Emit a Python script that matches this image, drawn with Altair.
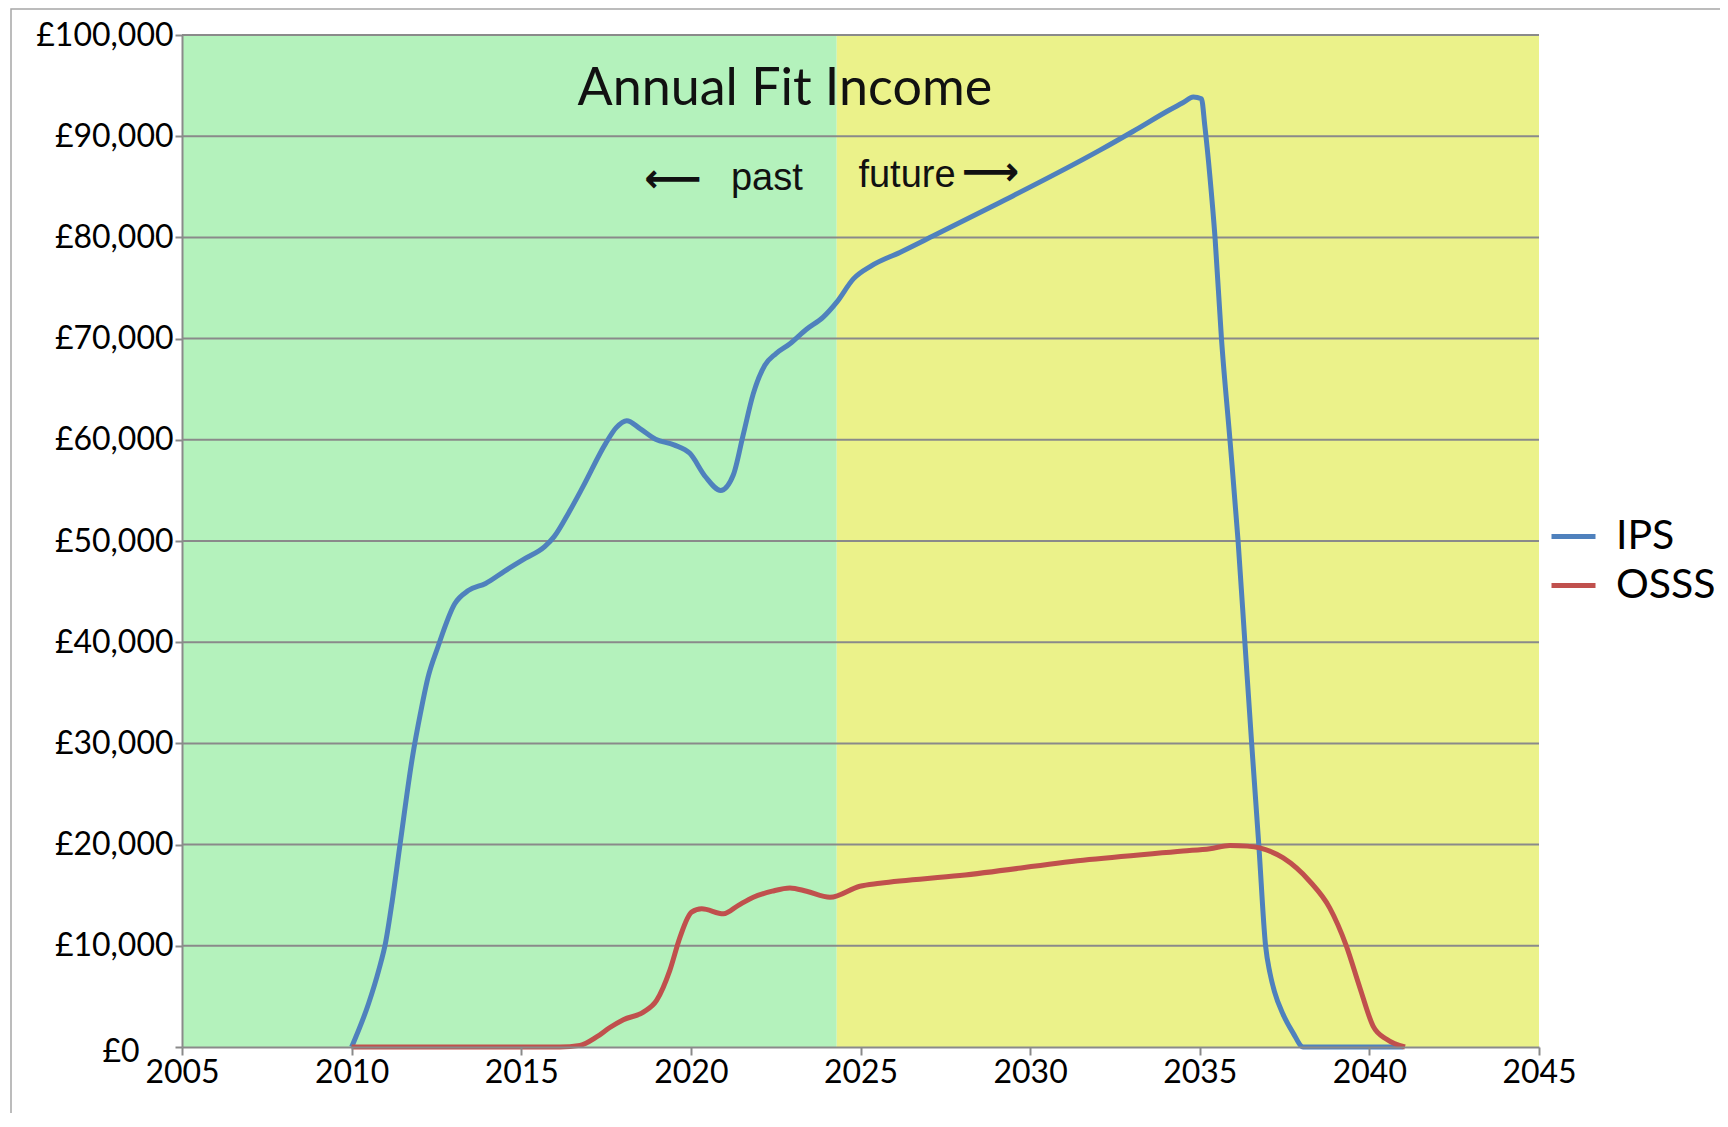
import altair as alt
import pandas as pd

# ---- data ----
ips_years = [2010.0, 2010.5, 2010.8, 2011.0, 2011.2, 2011.43, 2011.8, 2012.03, 2012.25, 2012.54,
             2013.04, 2013.44, 2013.95, 2014.5, 2015.13, 2015.69, 2015.97, 2016.4, 2016.82,
             2017.49, 2017.8, 2018.11, 2018.5, 2018.96, 2019.5, 2019.97, 2020.43, 2020.88,
             2021.25, 2021.54, 2021.84, 2022.18, 2022.5, 2022.92, 2023.4, 2023.9, 2024.3,
             2024.79, 2025.33, 2026.16, 2027.15, 2029.11, 2032.06, 2033.04, 2034.12, 2034.5,
             2034.81, 2035.05, 2035.15, 2035.3, 2035.45, 2035.64, 2035.89, 2036.13, 2036.33,
             2036.53, 2036.74, 2036.94, 2037.07, 2037.2, 2037.46, 2037.75, 2038.05, 2041.0]
ips_values = [0, 4300, 7600, 10300, 14500, 20100, 28800, 33000, 36500, 39500,
              43800, 45100, 45800, 47000, 48300, 49440, 50430, 52800, 55370,
              59650, 61200, 61890, 61100, 60050, 59500, 58660, 56350, 55000,
              56520, 60460, 64560, 67360, 68500, 69490, 70900, 72120, 73600,
              75900, 77210, 78520, 80160, 83450, 88620, 90490, 92620, 93300,
              93870, 93700, 91000, 86000, 80000, 70000, 60000, 50000, 40000,
              30000, 20000, 10000, 7300, 5500, 3200, 1400, 0, 0]

osss_years = [2010.0, 2016.14, 2016.73, 2017.22, 2017.6, 2018.01, 2018.6, 2018.99, 2019.38,
              2019.68, 2020.02, 2020.32, 2020.96, 2021.4, 2021.84, 2022.4, 2022.92, 2023.41,
              2024.1, 2024.98, 2025.57, 2027.93, 2031.56, 2034.51, 2035.3, 2035.89, 2036.4,
              2036.77, 2037.46, 2038.24, 2038.83, 2039.32, 2039.72, 2040.11, 2040.51, 2041.05]
osss_values = [0, 0, 160, 990, 1900, 2700, 3450, 4600, 7570,
               10860, 13320, 13650, 13160, 14000, 14800, 15400, 15720, 15390,
               14800, 15890, 16180, 16940, 18450, 19360, 19600, 19920, 19850,
               19670, 18680, 16380, 13750, 10000, 5860, 2070, 760, 0]

series_names = ["IPS", "OSSS"]
series_colors = ["#4F81BD", "#C0504D"]

x_ticks = [2005, 2010, 2015, 2020, 2025, 2030, 2035, 2040, 2045]
y_ticks = [0, 10000, 20000, 30000, 40000, 50000, 60000, 70000, 80000, 90000, 100000]
grid_values = y_ticks[1:]

period_names = ["past", "future"]
period_start = [2005, 2024.3]
period_end = [2024.3, 2045]
period_colors = ["#B4F2BC", "#EBF28A"]

title_text = ["Annual Fit Income"]
title_x = [2022.77]
title_y = [93110]

label_text = ["past", "future"]
label_x = [2022.24, 2026.37]
label_y = [84680, 84980]

arrow_text = ["\u27f5", "\u27f6"]
arrow_x = [2019.47, 2028.84]
arrow_y = [85670, 86360]

# ---- tables ----
lines_df = pd.concat([
    pd.DataFrame({"year": ips_years, "value": ips_values, "series": "IPS"}),
    pd.DataFrame({"year": osss_years, "value": osss_values, "series": "OSSS"}),
])
bg_df = pd.DataFrame({"period": period_names, "start": period_start, "end": period_end,
                      "lo": [0, 0], "hi": [100000, 100000]})
grid_df = pd.DataFrame({"v": grid_values})
title_df = pd.DataFrame({"text": title_text, "x": title_x, "y": title_y})
label_df = pd.DataFrame({"text": label_text, "x": label_x, "y": label_y})
arrow_df = pd.DataFrame({"text": arrow_text, "x": arrow_x, "y": arrow_y})

GRAY = "#8a8a8a"
x_scale = alt.Scale(domain=[2005, 2045], nice=False, zero=False)
y_scale = alt.Scale(domain=[0, 100000], nice=False)

x_axis = alt.Axis(values=x_ticks, format="d", title=None, grid=False,
                  domainColor=GRAY, domainWidth=2, tickColor=GRAY, tickWidth=2, tickSize=8,
                  labelFont="Lato", labelFontSize=32, labelColor="black", labelPadding=2,
                  labelFlush=False, labelOverlap=False, zindex=1)
y_axis = alt.Axis(values=y_ticks, title=None, grid=False,
                  labelExpr="'£' + format(datum.value, ',')",
                  domainColor=GRAY, domainWidth=2, tickColor=GRAY, tickWidth=2, tickSize=7,
                  labelFont="Lato", labelFontSize=32, labelColor="black",
                  labelPadding={"condition": {"test": "datum.value == 0", "value": 36}, "value": 2},
                  labelOffset={"condition": {"test": "datum.value == 0", "value": 4}, "value": 0},
                  labelOverlap=False, zindex=1)

bg = alt.Chart(bg_df).mark_rect().encode(
    x=alt.X("start:Q", scale=x_scale, axis=x_axis),
    x2="end:Q",
    y=alt.Y("lo:Q", scale=y_scale, axis=y_axis),
    y2="hi:Q",
    fill=alt.Fill("period:N", scale=alt.Scale(domain=period_names, range=period_colors), legend=None),
)

grid = alt.Chart(grid_df).mark_rule(color=GRAY, strokeWidth=2).encode(
    y=alt.Y("v:Q", scale=y_scale, axis=y_axis)
)

lines = alt.Chart(lines_df).mark_line(strokeWidth=5, interpolate="monotone").encode(
    x=alt.X("year:Q", scale=x_scale, axis=x_axis),
    y=alt.Y("value:Q", scale=y_scale, axis=y_axis),
    color=alt.Color("series:N", scale=alt.Scale(domain=series_names, range=series_colors),
                    legend=alt.Legend(title=None, orient="none", legendX=1367, legendY=477,
                                      symbolType="stroke", symbolSize=1936, symbolStrokeWidth=5,
                                      labelFont="Lato", labelFontSize=41, labelColor="black",
                                      labelOffset=18, rowPadding=4, padding=0)),
)

title = alt.Chart(title_df).mark_text(font="Lato", fontSize=52, align="center",
                                       baseline="alphabetic", color="#111111").encode(
    x=alt.X("x:Q", scale=x_scale, axis=x_axis),
    y=alt.Y("y:Q", scale=y_scale, axis=y_axis),
    text="text:N",
)

labels = alt.Chart(label_df).mark_text(font="Liberation Sans", fontSize=38, align="center",
                                        baseline="alphabetic", color="#111111").encode(
    x=alt.X("x:Q", scale=x_scale, axis=x_axis),
    y=alt.Y("y:Q", scale=y_scale, axis=y_axis),
    text="text:N",
)

arrows = alt.Chart(arrow_df).mark_text(font="DejaVu Sans", fontSize=40, fontWeight="bold",
                                        align="center", baseline="middle", color="#111111").encode(
    x=alt.X("x:Q", scale=x_scale, axis=x_axis),
    y=alt.Y("y:Q", scale=y_scale, axis=y_axis),
    text="text:N",
)

frame = alt.Chart(alt.Data(values=[{}])).mark_rect(
    fill="transparent", stroke="#a6a6a6", strokeWidth=1.5, clip=False
).encode(x=alt.value(-171), y=alt.value(-26), x2=alt.value(3000), y2=alt.value(3000))

chart = alt.layer(bg, grid, lines, title, labels, arrows, frame).properties(
    width=1357, height=1012,
    padding={"left": 174, "top": 27, "right": 181, "bottom": 66},
    autosize=alt.AutoSizeParams(type="none"),
    background="white",
).configure_view(strokeWidth=0)

chart.save("out.html", embed_options={"renderer": "svg", "actions": False})
